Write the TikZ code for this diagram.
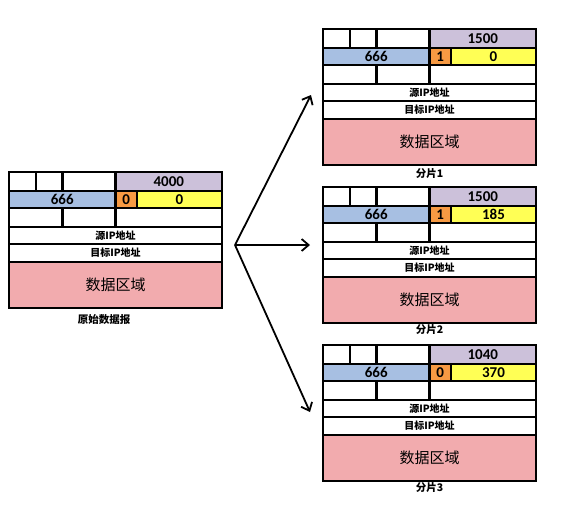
\documentclass[tikz,border=0pt]{standalone}
\usepackage{fontspec}
\setsansfont{Carlito}[BoldFont={Carlito Bold}]
\newfontfamily\cjk{Noto Sans CJK SC}
\usetikzlibrary{calc,arrows.meta}
\definecolor{lenfill}{HTML}{CCC1DA}
\definecolor{idfill}{HTML}{A7BFE2}
\definecolor{flagfill}{HTML}{F79A43}
\definecolor{offfill}{HTML}{FFFF55}
\definecolor{datafill}{HTML}{F2ABAE}
\tikzset{
	cell/.style={draw=black, line width=2.1pt},
	num/.style={font=\sffamily\bfseries\fontsize{15}{15}\selectfont},
	addr/.style={font=\cjk\bfseries\fontsize{10}{10}\selectfont},
	area/.style={font=\cjk\fontsize{15}{15}\selectfont},
	caption/.style={font=\cjk\bfseries\fontsize{10.5}{10.5}\selectfont},
	split/.style={line width=1.8pt, -{Straight Barb[length=7pt,width=12pt]}}
}
\def\datagram(#1)(#2,#3)#4#5#6{
	\begin{scope}[shift={(#2,#3)}]
		\draw[cell] (0, 0) rectangle (26.7, 19);
		\draw[cell] (26.7, 0) rectangle (53.5, 19);
		\draw[cell] (53.5, 0) rectangle (106.5, 19);
		\draw[cell, fill=lenfill] (106.5, 0) rectangle (213, 19);
		\draw[cell, fill=idfill] (0, 19) rectangle (106.5, 36);
		\draw[cell, fill=flagfill] (106.5, 19) rectangle (128, 36);
		\draw[cell, fill=offfill] (128, 19) rectangle (213, 36);
		\draw[cell] (0, 36) rectangle (53.5, 55);
		\draw[cell] (53.5, 36) rectangle (106.5, 55);
		\draw[cell] (106.5, 36) rectangle (213, 55);
		\draw[cell] (0, 55) rectangle (213, 72);
		\draw[cell] (0, 72) rectangle (213, 90);
		\draw[cell, fill=datafill] (0, 90) rectangle (213, 136);
		\node[num] (#1-len) at (159.75, 9.5) {#4};
		\node[num] (#1-id) at (53.25, 27.5) {666};
		\node[num] (#1-mf) at (117.25, 27.5) {#5};
		\node[num] (#1-off) at (170.5, 27.5) {#6};
		\node[addr] (#1-src) at (106.5, 63.5) {源IP地址};
		\node[addr] (#1-dst) at (106.5, 81) {目标IP地址};
		\node[area] (#1-data) at (106.5, 113) {数据区域};
		\coordinate (#1-bot) at (106.5, 136);
	\end{scope}
}
\begin{document}
\begin{tikzpicture}[x=1pt, y=-1pt]
		%%%%% START %%%%%
		\useasboundingbox (0, 0) rectangle (568, 509);
		
		\datagram(orig)(9, 172){4000}{0}{0}
		\node[caption] (origlab) at ($(orig-bot)+(-11.5, 12)$) {原始数据报};
		
		\datagram(f1)(323, 29){1500}{1}{0}
		\node[caption] (f1lab) at ($(f1-bot)+(0, 9)$) {分片1};
		
		\datagram(f2)(323, 187){1500}{1}{185}
		\node[caption] (f2lab) at ($(f2-bot)+(0, 7)$) {分片2};
		
		\datagram(f3)(323, 345){1040}{0}{370}
		\node[caption] (f3lab) at ($(f3-bot)+(0, 7)$) {分片3};
		
		\coordinate (fork) at (235, 245);
		\coordinate (to1) at (311, 95);
		\coordinate (to2) at (310, 245);
		\coordinate (to3) at (310, 412);
		\draw[split] (fork) -- (to1);
		\draw[split] (fork) -- (to2);
		\draw[split] (fork) -- (to3);
		
		%%%%% END %%%%%
\end{tikzpicture}
\end{document}
